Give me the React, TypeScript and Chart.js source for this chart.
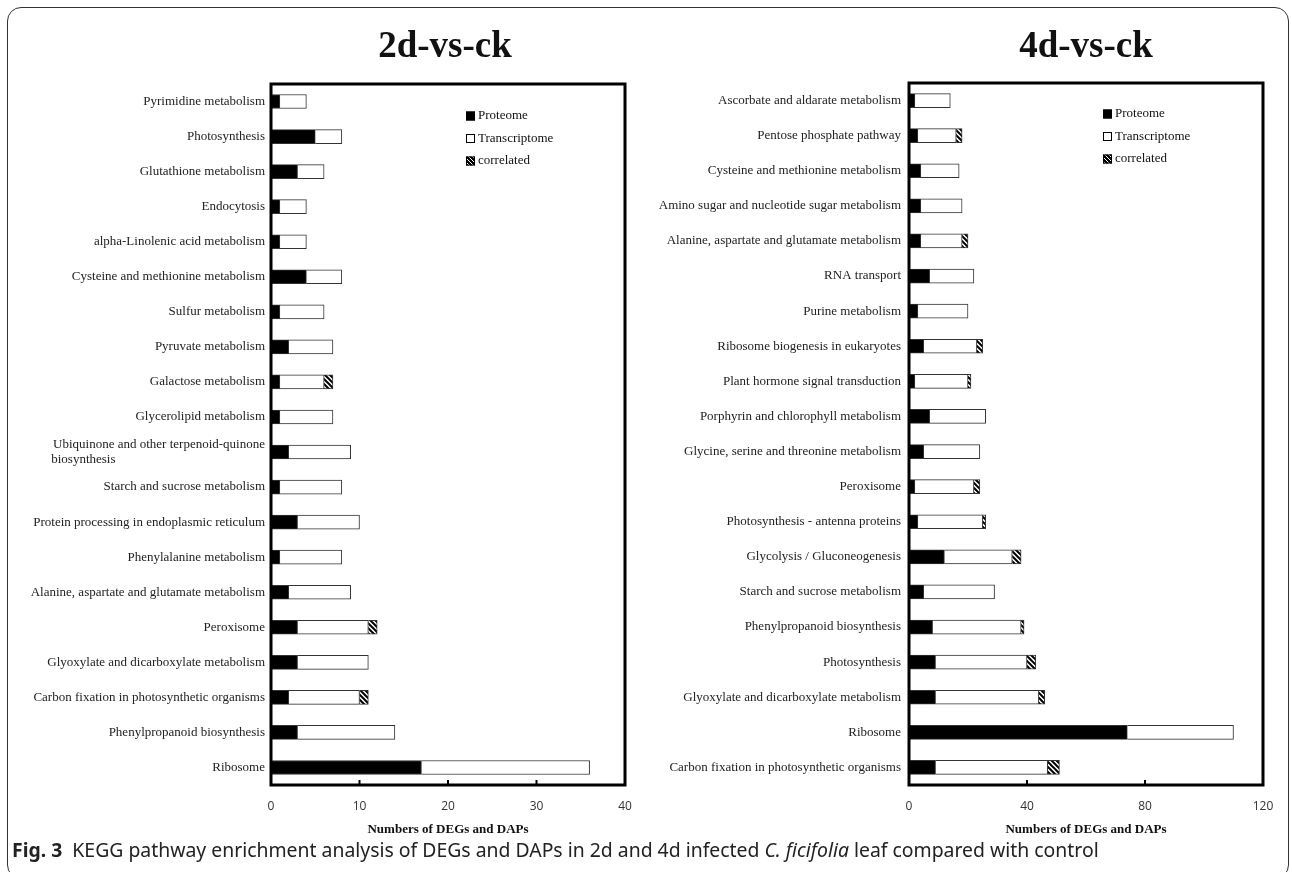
import React, { useEffect, useRef } from "react";
import { Chart, registerables } from "chart.js";

Chart.register(...registerables);

// ---------- data ----------
const leftCategories: (string | string[])[] = [
  "Pyrimidine metabolism",
  "Photosynthesis",
  "Glutathione metabolism",
  "Endocytosis",
  "alpha-Linolenic acid metabolism",
  "Cysteine and methionine metabolism",
  "Sulfur metabolism",
  "Pyruvate metabolism",
  "Galactose metabolism",
  "Glycerolipid metabolism",
  ["Ubiquinone and other terpenoid-quinone", "biosynthesis                                              "],
  "Starch and sucrose metabolism",
  "Protein processing in endoplasmic reticulum",
  "Phenylalanine metabolism",
  "Alanine, aspartate and glutamate metabolism",
  "Peroxisome",
  "Glyoxylate and dicarboxylate metabolism",
  "Carbon fixation in photosynthetic organisms",
  "Phenylpropanoid biosynthesis",
  "Ribosome",
];
const leftProteome = [1, 5, 3, 1, 1, 4, 1, 2, 1, 1, 2, 1, 3, 1, 2, 3, 3, 2, 3, 17];
const leftTranscriptome = [3, 3, 3, 3, 3, 4, 5, 5, 5, 6, 7, 7, 7, 7, 7, 8, 8, 8, 11, 19];
const leftCorrelated = [0, 0, 0, 0, 0, 0, 0, 0, 1, 0, 0, 0, 0, 0, 0, 1, 0, 1, 0, 0];
const leftTicks = { min: 0, max: 40, step: 10 };

const rightCategories = [
  "Ascorbate and aldarate metabolism",
  "Pentose phosphate pathway",
  "Cysteine and methionine metabolism",
  "Amino sugar and nucleotide sugar metabolism",
  "Alanine, aspartate and glutamate metabolism",
  "RNA transport",
  "Purine metabolism",
  "Ribosome biogenesis in eukaryotes",
  "Plant hormone signal transduction",
  "Porphyrin and chlorophyll metabolism",
  "Glycine, serine and threonine metabolism",
  "Peroxisome",
  "Photosynthesis - antenna proteins",
  "Glycolysis / Gluconeogenesis",
  "Starch and sucrose metabolism",
  "Phenylpropanoid biosynthesis",
  "Photosynthesis",
  "Glyoxylate and dicarboxylate metabolism",
  "Ribosome",
  "Carbon fixation in photosynthetic organisms",
];
const rightProteome = [2, 3, 4, 4, 4, 7, 3, 5, 2, 7, 5, 2, 3, 12, 5, 8, 9, 9, 74, 9];
const rightTranscriptome = [12, 13, 13, 14, 14, 15, 17, 18, 18, 19, 19, 20, 22, 23, 24, 30, 31, 35, 36, 38];
const rightCorrelated = [0, 2, 0, 0, 2, 0, 0, 2, 1, 0, 0, 2, 1, 3, 0, 1, 3, 2, 0, 4];
const rightTicks = { min: 0, max: 120, step: 40 };

const seriesNames = ["Proteome", "Transcriptome", "correlated"];
const axisTitle = "Numbers of DEGs and DAPs";

// ---------- helpers ----------
function makeHatch(): CanvasPattern | string {
  const c = document.createElement("canvas");
  c.width = 5;
  c.height = 5;
  const g = c.getContext("2d");
  if (!g) return "#888";
  g.fillStyle = "#fff";
  g.fillRect(0, 0, 5, 5);
  g.strokeStyle = "#000";
  g.lineWidth = 2;
  g.beginPath();
  g.moveTo(-1, -1);
  g.lineTo(6, 6);
  g.moveTo(-1, 4);
  g.lineTo(1, 6);
  g.moveTo(4, -1);
  g.lineTo(6, 1);
  g.stroke();
  return g.createPattern(c, "repeat") || "#888";
}

const SERIF = "'Liberation Serif', 'Times New Roman', serif";

const framePlugin = {
  id: "frame",
  afterDatasetsDraw(chart: any, _args: any, opts: any) {
    const { ctx, chartArea: a } = chart;
    const xs = chart.scales.x;
    ctx.save();
    ctx.strokeStyle = "#000";
    ctx.lineWidth = 3;
    ctx.strokeRect(a.left, a.top, a.right - a.left, a.bottom - a.top);
    ctx.lineWidth = 2;
    for (const t of xs.ticks) {
      const v = t.value;
      if (v <= xs.min || v >= xs.max) continue;
      const px = xs.getPixelForValue(v);
      ctx.beginPath();
      ctx.moveTo(px, a.bottom);
      ctx.lineTo(px, a.bottom - 5);
      ctx.stroke();
    }
    // legend
    const lx = opts.x;
    const ly = opts.y;
    const gap = 22.5;
    ctx.font = `13px ${SERIF}`;
    ctx.textBaseline = "middle";
    ctx.textAlign = "left";
    chart.data.datasets.forEach((ds: any, i: number) => {
      const y = ly + i * gap;
      const s = 9;
      ctx.fillStyle = i === 2 ? opts.legendHatch : ds.backgroundColor;
      ctx.fillRect(lx, y - s / 2, s, s);
      ctx.lineWidth = 1;
      ctx.strokeStyle = "#000";
      ctx.strokeRect(lx + 0.5, y - s / 2 + 0.5, s - 1, s - 1);
      ctx.fillStyle = "#111";
      ctx.fillText(ds.label, lx + s + 3, y);
    });
    ctx.restore();
  },
};

type PanelProps = {
  categories: (string | string[])[];
  proteome: number[];
  transcriptome: number[];
  correlated: number[];
  ticks: { min: number; max: number; step: number };
  yWidth: number;
  padRight: number;
  padTop: number;
  legendX: number;
  legendY: number;
  labelPad: number;
};

function Panel(p: PanelProps) {
  const ref = useRef<HTMLCanvasElement | null>(null);
  useEffect(() => {
    if (!ref.current) return;
    const hatch = makeHatch();
    const legendHatch = (() => {
      const c = document.createElement("canvas");
      c.width = 4;
      c.height = 4;
      const g = c.getContext("2d");
      if (!g) return "#444";
      g.fillStyle = "#000";
      g.fillRect(0, 0, 4, 4);
      g.strokeStyle = "#fff";
      g.lineWidth = 1;
      g.beginPath();
      g.moveTo(0, 0);
      g.lineTo(4, 4);
      g.stroke();
      return g.createPattern(c, "repeat") || "#444";
    })();
    const chart = new Chart(ref.current, {
      type: "bar",
      data: {
        labels: p.categories as any,
        datasets: [
          {
            label: seriesNames[0],
            data: p.proteome,
            backgroundColor: "#000",
            borderColor: "#333",
            borderWidth: 1,
            barThickness: 14,
          },
          {
            label: seriesNames[1],
            data: p.transcriptome,
            backgroundColor: "#fff",
            borderColor: "#333",
            borderWidth: 1,
            barThickness: 14,
          },
          {
            label: seriesNames[2],
            data: p.correlated,
            backgroundColor: hatch as any,
            borderColor: "#333",
            borderWidth: 1,
            barThickness: 14,
          },
        ],
      },
      options: {
        indexAxis: "y",
        animation: false,
        responsive: false,
        maintainAspectRatio: false,
        layout: { padding: { left: 0, right: p.padRight, top: p.padTop, bottom: 35 } },
        plugins: {
          legend: { display: false },
          tooltip: { enabled: false },
          frame: { x: p.legendX, y: p.legendY, legendHatch },
        } as any,
        scales: {
          x: {
            stacked: true,
            min: p.ticks.min,
            max: p.ticks.max,
            ticks: {
              stepSize: p.ticks.step,
              padding: 14,
              color: "#333",
              font: { family: "'Open Sans', sans-serif", size: 12 },
            },
            grid: { display: false, drawTicks: false },
            border: { display: false },
            title: {
              display: true,
              text: axisTitle,
              color: "#111",
              font: { family: SERIF, size: 13, weight: "bold" },
              padding: { top: 0, bottom: 0 },
            },
            afterFit: (s: any) => {
              s.height = 52;
            },
          },
          y: {
            stacked: true,
            ticks: {
              autoSkip: false,
              padding: p.labelPad,
              color: "#222",
              font: { family: SERIF, size: 13 },
            },
            grid: { display: false, drawTicks: false },
            border: { display: false },
            afterFit: (s: any) => {
              s.width = p.yWidth;
            },
          },
        },
      },
      plugins: [framePlugin as any],
    });
    return () => chart.destroy();
  }, []);
  return <canvas ref={ref} width={646} height={872} style={{ width: 646, height: 872, display: "block" }} />;
}

export default function App() {
  return (
    <div style={{ position: "absolute", left: 0, top: 0, width: 1292, height: 872, background: "#fff", overflow: "hidden" }}>
      <div
        style={{
          position: "absolute",
          left: 7,
          top: 7,
          width: 1282,
          height: 872,
          border: "1px solid #333",
          borderRadius: 14,
          boxSizing: "border-box",
        }}
      />
      <div style={{ position: "absolute", left: 0, top: 0 }}>
        <Panel
          categories={leftCategories}
          proteome={leftProteome}
          transcriptome={leftTranscriptome}
          correlated={leftCorrelated}
          ticks={leftTicks}
          yWidth={271}
          padRight={21}
          padTop={84}
          legendX={466}
          legendY={116}
          labelPad={6}
        />
      </div>
      <div style={{ position: "absolute", left: 646, top: 0 }}>
        <Panel
          categories={rightCategories}
          proteome={rightProteome}
          transcriptome={rightTranscriptome}
          correlated={rightCorrelated}
          ticks={rightTicks}
          yWidth={263}
          padRight={29}
          padTop={83}
          legendX={457}
          legendY={114}
          labelPad={8}
        />
      </div>
      <div
        style={{
          position: "absolute",
          left: 345,
          top: 26,
          width: 200,
          textAlign: "center",
          font: `bold 37px ${SERIF}`,
          lineHeight: "38px",
          color: "#111",
        }}
      >
        2d-vs-ck
      </div>
      <div
        style={{
          position: "absolute",
          left: 986,
          top: 26,
          width: 200,
          textAlign: "center",
          font: `bold 37px ${SERIF}`,
          lineHeight: "38px",
          color: "#111",
        }}
      >
        4d-vs-ck
      </div>
      <div
        style={{
          position: "absolute",
          left: 12,
          top: 837,
          whiteSpace: "nowrap",
          font: "19.4px 'Noto Sans', sans-serif",
          lineHeight: "26px",
          color: "#222",
        }}
      >
        <b>Fig. 3</b>&nbsp; KEGG pathway enrichment analysis of DEGs and DAPs in 2d and 4d infected <i>C. ficifolia</i> leaf
        compared with control
      </div>
    </div>
  );
}
